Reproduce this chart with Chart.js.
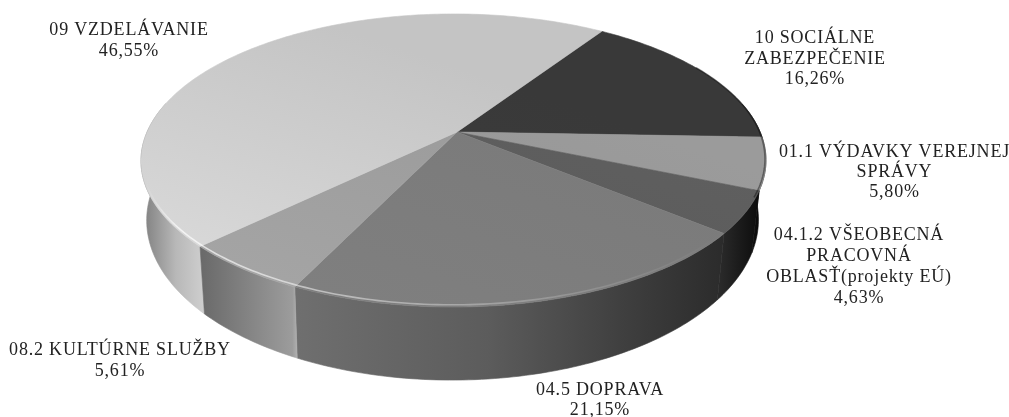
<!DOCTYPE html>
<html><head><meta charset="utf-8">
<style>html,body{margin:0;padding:0;background:#fff}canvas{display:block}</style>
<script src="https://cdn.jsdelivr.net/npm/chart.js@4"></script>
</head><body><canvas id="c" width="1009" height="417"></canvas>
<script>
const categories = ['10 SOCIÁLNE ZABEZPEČENIE','01.1 VÝDAVKY VEREJNEJ SPRÁVY','04.1.2 VŠEOBECNÁ PRACOVNÁ OBLASŤ(projekty EÚ)','04.5 DOPRAVA','08.2 KULTÚRNE SLUŽBY','09 VZDELÁVANIE'];
const shares = [16.26,5.80,4.63,21.15,5.61,46.55];
const labelLines = [['10 SOCIÁLNE','ZABEZPEČENIE'],['01.1 VÝDAVKY VEREJNEJ','SPRÁVY'],['04.1.2 VŠEOBECNÁ','PRACOVNÁ','OBLASŤ(projekty EÚ)'],['04.5 DOPRAVA'],['08.2 KULTÚRNE SLUŽBY'],['09 VZDELÁVANIE']];

// presentation
const labelAnchors = [[815,43,20.5],[894.5,157,20],[859,240,21],[600,395,20],[120,355,21],[129,35,20.5]];
const topStops = [['#393939','#3f3f3f'],['#9b9b9b','#929292'],['#5f5f5f','#585858'],['#7a7a7a','#808080'],['#9a9a9a','#a6a6a6'],['#c4c4c4','#dcdcdc']];
const wallStops = [['#222','#222'],['#111','#000'],['#2c2c2c','#0c0c0c'],
  [[0,'#6f6f6f'],[.45,'#5c5c5c'],[.8,'#3c3c3c'],[1,'#2b2b2b']],
  [[0,'#696969'],[.95,'#9c9c9c'],[1,'#b0b0b0']],
  [[0,'#7c7c7c'],[.55,'#b8b8b8'],[1,'#cfcfcf']]];
const P = -0.1945, Q = 0.011;
const topFace = {x:457,y:132,a:306.5,b:141};
const baseFace = {x:456,y:188.9,a:300,b:154};
const project = (f,t)=>{const u=Math.cos(t),v=Math.sin(t),w=1+P*v+Q*u;return [f.x+f.a*u/w,f.y+f.b*v/w];};
const STEP = Math.PI/180;
const rim = (f,s,e)=>{const o=[];const n=Math.max(2,Math.ceil((e-s)/STEP));for(let i=0;i<=n;i++)o.push(project(f,s+(e-s)*i/n));return o;};

const canvas = document.getElementById('c');
const g = canvas.getContext('2d');
const topGrad = topStops.map(s=>{const l=g.createLinearGradient(300,14,200,307);l.addColorStop(0,s[0]);l.addColorStop(1,s[1]);return l;});

// a pie slice seen in perspective: the library supplies its angles
Chart.ArcElement.prototype.draw = function(ctx){
  const pts = rim(topFace,this.startAngle,this.endAngle);
  ctx.beginPath();ctx.moveTo(topFace.x,topFace.y);
  pts.forEach(p=>ctx.lineTo(p[0],p[1]));ctx.closePath();
  ctx.fillStyle=this.options.backgroundColor;ctx.fill();
  ctx.strokeStyle=this.options.backgroundColor;ctx.lineWidth=.6;ctx.stroke();
};

const walls = {id:'walls',beforeDatasetsDraw(chart){
  const c=chart.ctx,arcs=chart.getDatasetMeta(0).data;
  const lo=-12*STEP,hi=192*STEP,twoPi=2*Math.PI;
  const order=[5,0,1,2,3,4];
  order.forEach(i=>{
    const arc=arcs[i];
    [-twoPi,0,twoPi].forEach(k=>{
      const s=Math.max(arc.startAngle+k,lo),e=Math.min(arc.endAngle+k,hi);
      if(e<=s)return;
      const T=rim(topFace,s,e),B=rim(baseFace,s,e);
      const xs=T.concat(B).map(p=>p[0]);
      const x0=Math.min(...xs),x1=Math.max(...xs);
      const l=c.createLinearGradient(x0,0,x1,0);
      const st=wallStops[i];
      if(Array.isArray(st[0]))st.forEach(q=>l.addColorStop(q[0],q[1]));
      else{l.addColorStop(0,st[0]);l.addColorStop(1,st[1]);}
      c.beginPath();
      T.forEach((p,j)=>j?c.lineTo(p[0],p[1]):c.moveTo(p[0],p[1]));
      B.reverse().forEach(p=>c.lineTo(p[0],p[1]));
      c.closePath();c.fillStyle=l;c.fill();c.strokeStyle=l;c.lineWidth=.6;c.stroke();
    });
  });
}};

const rimLight = {id:'rimLight',afterDatasetsDraw(chart){
  const c=chart.ctx;
  const inner={x:topFace.x,y:topFace.y-1,a:topFace.a-1,b:topFace.b-1};
  const pts=rim(inner,40*STEP,168*STEP);
  const l=c.createLinearGradient(146,0,720,0);
  l.addColorStop(0,'rgba(255,255,255,0)');l.addColorStop(.06,'rgba(255,255,255,.7)');
  l.addColorStop(.3,'rgba(255,255,255,.5)');l.addColorStop(.7,'rgba(255,255,255,.2)');l.addColorStop(1,'rgba(255,255,255,0)');
  c.beginPath();pts.forEach((p,j)=>j?c.lineTo(p[0],p[1]):c.moveTo(p[0],p[1]));
  c.strokeStyle=l;c.lineWidth=1.6;c.stroke();
  const dark=rim(inner,-30*STEP,26*STEP);
  c.beginPath();dark.forEach((p,j)=>j?c.lineTo(p[0],p[1]):c.moveTo(p[0],p[1]));
  c.strokeStyle='rgba(0,0,0,.4)';c.lineWidth=1.6;c.stroke();
}};

const labels = {id:'labels',afterDraw(chart){
  const c=chart.ctx;c.save();
  c.font='18px "Liberation Serif"';c.letterSpacing='0.8px';c.textAlign='center';c.textBaseline='alphabetic';c.fillStyle='#222';
  shares.forEach((v,i)=>{
    const [x,y,lh]=labelAnchors[i];
    labelLines[i].concat([v.toFixed(2).replace('.',',')+'%']).forEach((t,j)=>c.fillText(t,x,y+j*lh));
  });
  c.restore();
}};

new Chart(canvas,{type:'pie',
  data:{labels:categories,datasets:[{data:shares,backgroundColor:topGrad,borderWidth:0}]},
  options:{responsive:false,animation:false,rotation:33.5,
    plugins:{legend:{display:false},tooltip:{enabled:false}}},
  plugins:[walls,rimLight,labels]});
</script></body></html>
